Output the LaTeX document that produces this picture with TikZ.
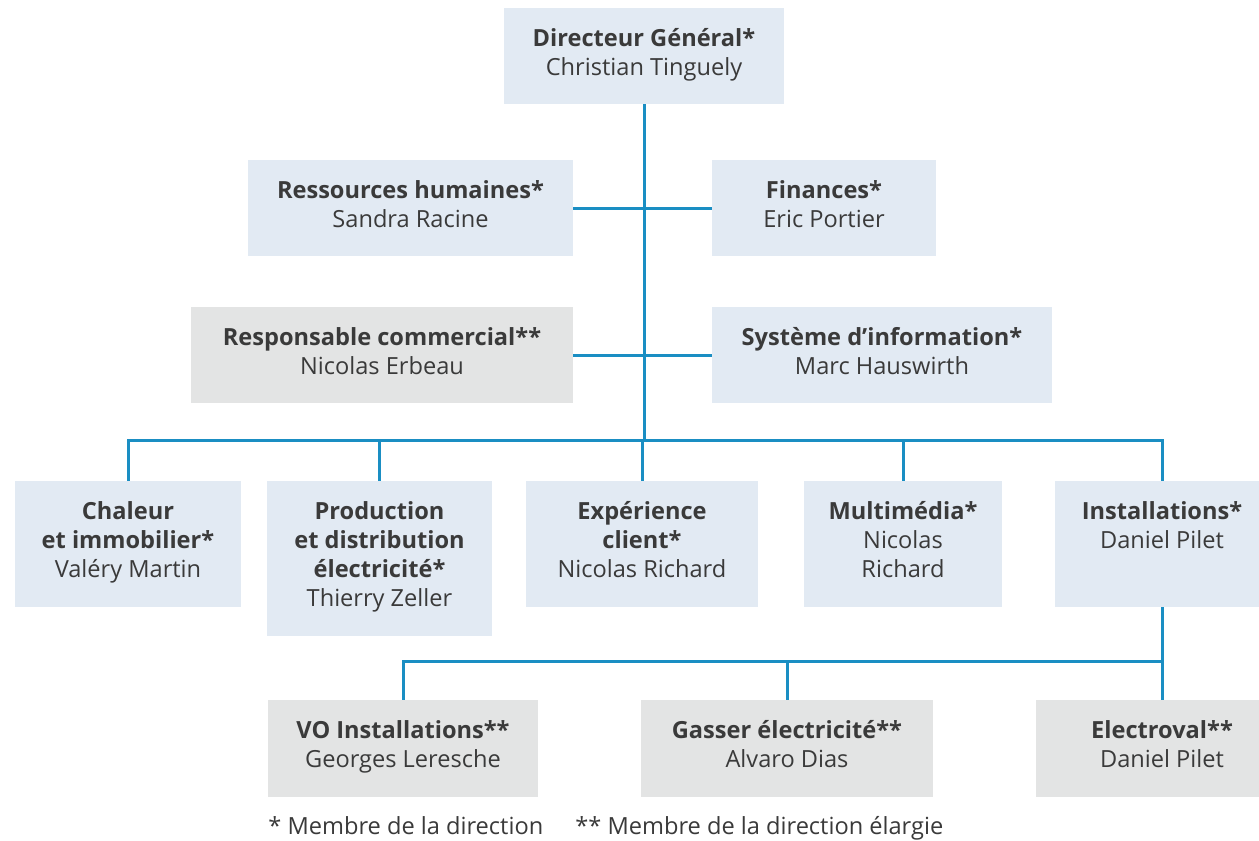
\documentclass[tikz,border=0pt]{standalone}
\usepackage{fontspec}
\setmainfont{Open Sans}
\usepackage{xcolor}
\usepackage{tikz}
\definecolor{boxblue}{HTML}{E2EAF3}
\definecolor{boxgray}{HTML}{E3E4E4}
\definecolor{linkblue}{HTML}{1A8EC3}
\definecolor{txt}{HTML}{3A3A3A}
\tikzset{
    box/.style={fill=boxblue, inner sep=0pt, align=center, text=txt,
        font=\fontsize{11.8pt}{14.5pt}\selectfont,
        execute at begin node=\rule{0pt}{13.15pt}, execute at end node=\strut},
    gbox/.style={box, fill=boxgray},
    link/.style={draw=linkblue, line width=1.5pt},
}

\begin{document}
\begin{tikzpicture}[x=0.5pt,y=-0.5pt]
            \clip (0,0) rectangle (1259,841);
            \fill[white] (0,0) rectangle (1259,841);
            \node[box, minimum width=140pt, minimum height=48pt] (dg) at (644,56) {\textbf{Directeur Général*}\\Christian Tinguely};
            \node[box, minimum width=162.5pt, minimum height=48pt] (rh) at (410.5,208) {\textbf{Ressources humaines*}\\Sandra Racine};
            \node[box, minimum width=112pt, minimum height=48pt] (fin) at (824,208) {\textbf{Finances*}\\Eric Portier};
            \node[gbox, minimum width=191pt, minimum height=48pt] (com) at (382,355) {\textbf{Responsable commercial**}\\Nicolas Erbeau};
            \node[box, minimum width=170pt, minimum height=48pt] (si) at (882,355) {\textbf{Système d’information*}\\Marc Hauswirth};
            \node[box, minimum width=113pt, minimum height=63pt] (chal) at (128,544) {\textbf{Chaleur}\\\textbf{et immobilier*}\\Valéry Martin};
            \node[box, minimum width=112.5pt, minimum height=77.5pt] (prod) at (379.5,558.5) {\textbf{Production}\\\textbf{et distribution}\\\textbf{électricité*}\\Thierry Zeller};
            \node[box, minimum width=116pt, minimum height=63pt] (exp) at (642,544) {\textbf{Expérience}\\\textbf{client*}\\Nicolas Richard};
            \node[box, minimum width=99pt, minimum height=63pt] (mult) at (903,544) {\textbf{Multimédia*}\\Nicolas\\Richard};
            \node[box, minimum width=107pt, minimum height=63pt] (inst) at (1162,544) {\textbf{Installations*}\\Daniel Pilet\\};
            \node[gbox, minimum width=135pt, minimum height=48.5pt] (vo) at (403,748.5) {\textbf{VO Installations**}\\Georges Leresche};
            \node[gbox, minimum width=146pt, minimum height=48.5pt] (gas) at (787,748.5) {\textbf{Gasser électricité**}\\Alvaro Dias};
            \node[gbox, minimum width=126pt, minimum height=48.5pt] (elec) at (1162,748.5) {\textbf{Electroval**}\\Daniel Pilet};
            \node[anchor=base west, inner sep=0pt, text=txt, font=\fontsize{11.8pt}{14.5pt}\selectfont] (n1) at (268,834) {* Membre de la direction};
            \node[anchor=base west, inner sep=0pt, text=txt, font=\fontsize{11.8pt}{14.5pt}\selectfont] (n2) at (575,834) {** Membre de la direction élargie};
            \coordinate (bus) at (642,440);
            \coordinate (sub) at (1162,661);
            \draw[link] (dg.south) -- (dg.south |- bus);
            \draw[link] (rh.east) -- (fin.west);
            \draw[link] (com.east) -- (si.west);
            \foreach \n in {chal,prod,exp,mult,inst} {
                \draw[link] (\n.north) |- (bus);
            }
            \draw[link] (inst.south) -- (elec.north);
            \foreach \n in {vo,gas} {
                \draw[link] (\n.north) |- (sub);
            }
        \end{tikzpicture}
\end{document}
